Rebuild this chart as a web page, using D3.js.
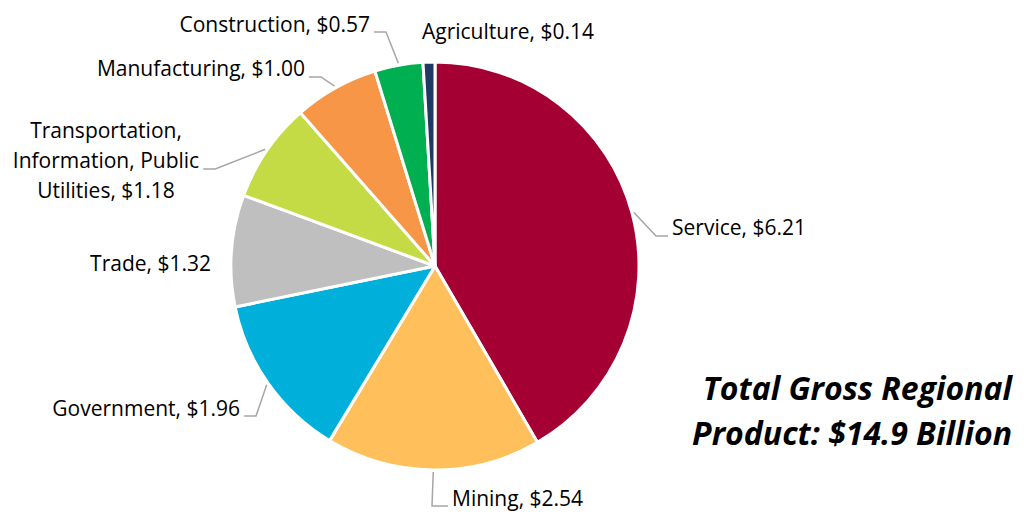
<!DOCTYPE html>
<html>
<head>
<meta charset="utf-8">
<script src="https://cdn.jsdelivr.net/npm/d3@7"></script>
<style>
  html, body { margin: 0; padding: 0; background: #fff; }
  svg { display: block; }
  text { font-family: "Open Sans", "Noto Sans", sans-serif; fill: #000; }
</style>
</head>
<body>
<svg id="chart" width="1024" height="514"></svg>
<script>
// Gross regional product by sector, billions of dollars
const sectors = ["Service", "Mining", "Government", "Trade",
  "Transportation, Information, Public Utilities", "Manufacturing",
  "Construction", "Agriculture"];
const values = [6.21, 2.54, 1.96, 1.32, 1.18, 1.00, 0.57, 0.14];
const colors = ["#A50034", "#FFC05B", "#00B0DA", "#BFBFBF",
  "#C4DB45", "#F79646", "#00B050", "#1F3864"];
const totalLines = ["Total Gross Regional", "Product: $14.9 Billion"];

// Label placement: x, baseline y, anchor, wrapped lines, leader (y of horizontal run, side)
const labelLayout = {
  "Service":       { x: 672, y: 235, anchor: "start", leaderY: 236, side: "left" },
  "Mining":        { x: 452, y: 506, anchor: "start", leaderY: 506, side: "left", elbow: 16 },
  "Government":    { x: 240, y: 416, anchor: "end",   leaderY: 416, side: "right" },
  "Trade":         { x: 211, y: 271, anchor: "end" },
  "Transportation, Information, Public Utilities":
                   { x: 106, y: 138, anchor: "middle", lineH: 30,
                     wrap: ["Transportation,", "Information, Public", "Utilities, $1.18"],
                     leaderY: 169, side: "right" },
  "Manufacturing": { x: 305, y: 76,  anchor: "end",   leaderY: 77, side: "right" },
  "Construction":  { x: 370, y: 32,  anchor: "end",   leaderY: 32, side: "right" },
  "Agriculture":   { x: 422, y: 39,  anchor: "start" }
};

const svg = d3.select("#chart");
const cx = 435, cy = 266, radius = 204;
const fontSize = 21;

const color = d3.scaleOrdinal().domain(sectors).range(colors);
const fmt = d3.format("$.2f");

const pie = d3.pie().sort(null).value(d => d.value);
const data = sectors.map((s, i) => ({ sector: s, value: values[i] }));
const arcs = pie(data);

const arc = d3.arc().innerRadius(0).outerRadius(radius);
const edgeArc = d3.arc().innerRadius(radius + 2).outerRadius(radius + 2);

const g = svg.append("g").attr("transform", `translate(${cx},${cy})`);

g.selectAll("path.slice")
  .data(arcs)
  .join("path")
  .attr("class", "slice")
  .attr("d", arc)
  .attr("fill", d => color(d.data.sector))
  .attr("stroke", "#fff")
  .attr("stroke-width", 3)
  .attr("stroke-linejoin", "round");

// Labels with leader lines
const labelG = svg.append("g");
arcs.forEach(d => {
  const L = labelLayout[d.data.sector];
  const lines = L.wrap || [`${d.data.sector}, ${fmt(d.data.value)}`];
  const t = labelG.append("text")
    .attr("text-anchor", L.anchor)
    .attr("font-size", fontSize);
  lines.forEach((ln, i) => {
    t.append("tspan")
      .attr("x", L.x)
      .attr("y", L.y + i * (L.lineH || 0))
      .text(ln);
  });

  if (L.leaderY !== undefined) {
    const bb = t.node().getBBox();
    const gap = 4;
    const elbowLen = L.elbow || 12;
    let endX, elbowX;
    if (L.side === "left") {
      endX = bb.x - gap;
      elbowX = endX - elbowLen;
    } else {
      endX = bb.x + bb.width + gap;
      elbowX = endX + elbowLen;
    }
    const [px, py] = edgeArc.centroid(d);
    labelG.append("polyline")
      .attr("points", [[endX, L.leaderY], [elbowX, L.leaderY], [px + cx, py + cy]].map(p => p.join(",")).join(" "))
      .attr("fill", "none")
      .attr("stroke", "#A6A6A6")
      .attr("stroke-width", 1.5);
  }
});

// Total annotation
const totalText = svg.append("text")
  .attr("text-anchor", "end")
  .attr("font-size", 32)
  .attr("font-weight", "bold")
  .attr("font-style", "italic");
totalLines.forEach((ln, i) => {
  totalText.append("tspan")
    .attr("x", 1012)
    .attr("y", 400 + i * 45)
    .text(ln);
});
</script>
</body>
</html>
